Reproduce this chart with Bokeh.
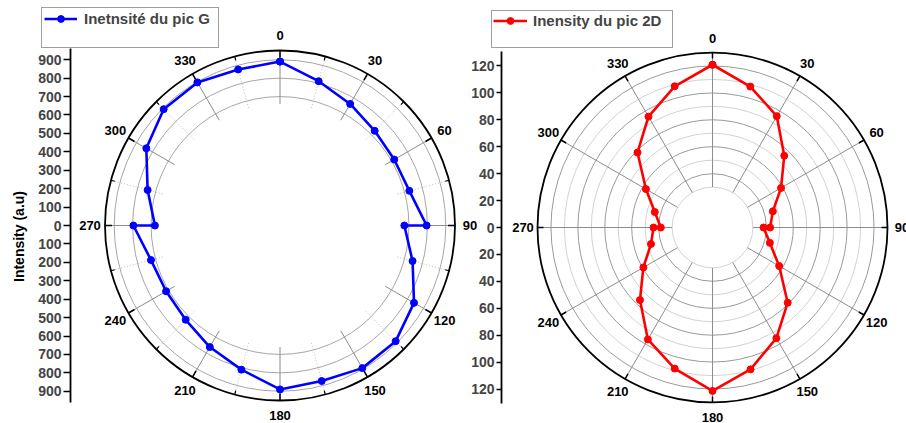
import numpy as np
from bokeh.plotting import figure
from bokeh.models import LinearAxis, FixedTicker, Legend, LegendItem, Range1d
from bokeh.core.properties import value
from bokeh.embed import file_html
from bokeh.resources import INLINE

# ---------------- data ----------------
angles = [0, 15, 30, 45, 60, 75, 90, 90, 105, 120, 135, 150, 165, 180,
          195, 210, 225, 240, 255, 270, 270, 285, 300, 315, 330, 345, 360]
g_intensity = [890, 811, 762, 727, 716, 727, 796, 675, 745, 840, 888, 894, 874, 890,
               810, 762, 724, 714, 725, 796, 679, 744, 838, 893, 897, 877, 890]
d2_intensity = [120.9, 108.4, 95.5, 75.4, 58.8, 46.4, 42.8, 37.9, 44.1, 57.2, 79.0, 94.9, 109.1, 121.4,
                108.5, 96.0, 76.2, 59.3, 47.3, 43.8, 38.4, 44.4, 57.1, 78.8, 95.1, 108.6, 120.9]

angle_ticks = [0, 30, 60, 90, 120, 150, 180, 210, 240, 270, 300, 330]
angle_tick_labels = ["0", "30", "60", "90", "120", "150", "180", "210", "240", "270", "300", "330"]
angle_minor_ticks = [15, 45, 75, 105, 135, 165, 195, 225, 255, 285, 315, 345]

g_radial_ticks = [-900, -800, -700, -600, -500, -400, -300, -200, -100, 0,
                  100, 200, 300, 400, 500, 600, 700, 800, 900]
g_radial_labels = ["900", "800", "700", "600", "500", "400", "300", "200", "100", "0",
                   "100", "200", "300", "400", "500", "600", "700", "800", "900"]
g_rings = [700, 800, 900]
g_rmax = 950
g_spoke_start = 660

d2_radial_ticks = [-120, -100, -80, -60, -40, -20, 0, 20, 40, 60, 80, 100, 120]
d2_radial_labels = ["120", "100", "80", "60", "40", "20", "0", "20", "40", "60", "80", "100", "120"]
d2_rings_major = [40, 60, 80, 100, 120]
d2_rings_minor = [30, 50, 70, 90, 110]
d2_rmax = 130
d2_spoke_start = 30

FONT = "Liberation Sans"
W, H = 906, 423

# page geometry of the two polar panels (pixels)
C1 = (279.5, 225)
C2 = (712, 227)
R_PX = 175
k1 = R_PX / g_rmax
k2 = R_PX / d2_rmax

p = figure(width=W, height=H,
           x_range=Range1d(-C1[0] / k1, (W - C1[0]) / k1),
           y_range=Range1d(-(H - C1[1]) / k1, C1[1] / k1),
           x_axis_type=None, y_axis_type=None,
           output_backend="svg", toolbar_location=None,
           min_border_left=0, min_border_right=0, min_border_top=0, min_border_bottom=0)
p.extra_x_ranges = {"r2": Range1d(-C2[0] / k2, (W - C2[0]) / k2)}
p.extra_y_ranges = {"r2": Range1d(-(H - C2[1]) / k2, C2[1] / k2)}
p.outline_line_color = None


def xy(r, a):
    t = np.radians(np.asarray(a, dtype=float))
    r = np.asarray(r, dtype=float)
    return r * np.sin(t), r * np.cos(t)


def panel(rn, k, cx, rmax, rings, spoke_start, minor_spokes, tick_major_px, tick_minor_px,
          ticks, tick_labels, bound_px, tick_out, axis_px, color, series, legend_label,
          legend_box, label_px):
    kw = dict(x_range_name=rn, y_range_name=rn)
    for radii, col in rings:
        p.circle(x=[0] * len(radii), y=[0] * len(radii), radius=radii,
                 fill_color=None, line_color=col, line_width=1, **kw)
    x0, y0 = xy([spoke_start] * len(angle_ticks), angle_ticks)
    x1, y1 = xy([rmax] * len(angle_ticks), angle_ticks)
    p.segment(x0, y0, x1, y1, line_color="#8c8c8c", line_width=1, **kw)
    if minor_spokes:
        x0, y0 = xy([spoke_start] * len(angle_minor_ticks), angle_minor_ticks)
        x1, y1 = xy([rmax] * len(angle_minor_ticks), angle_minor_ticks)
        p.segment(x0, y0, x1, y1, line_color="#bdbdbd", line_width=1, line_dash="1 2", **kw)
    p.circle(x=[0], y=[0], radius=[rmax], fill_color=None, line_color="black", line_width=1.8, **kw)
    x0, y0 = xy([rmax - tick_major_px / k] * len(angle_ticks), angle_ticks)
    x1, y1 = xy([rmax] * len(angle_ticks), angle_ticks)
    p.segment(x0, y0, x1, y1, line_color="black", line_width=1.5, **kw)
    if tick_minor_px:
        x0, y0 = xy([rmax - tick_minor_px / k] * len(angle_minor_ticks), angle_minor_ticks)
        x1, y1 = xy([rmax] * len(angle_minor_ticks), angle_minor_ticks)
        p.segment(x0, y0, x1, y1, line_color="black", line_width=1.2, **kw)

    dx, dy = xy(series, angles)
    lr = p.line(dx, dy, line_color=color, line_width=2.6, **kw)
    sr = p.scatter(dx, dy, size=7, fill_color=color, line_color=color, **kw)

    lx, ly = xy([rmax + label_px / k] * len(angle_ticks), angle_ticks)
    p.text(lx, ly, text=angle_tick_labels, text_font=value(FONT), text_font_style="bold",
           text_font_size="13px", text_align="center", text_baseline="middle",
           text_color="black", **kw)

    ax = LinearAxis(ticker=FixedTicker(ticks=ticks),
                    major_label_overrides=dict(zip(ticks, tick_labels)),
                    bounds=(-bound_px / k, bound_px / k),
                    fixed_location=(axis_px - cx) / k, **kw)
    ax.axis_line_width = 1.8
    ax.axis_line_color = "black"
    ax.major_tick_out = tick_out
    ax.major_tick_in = 0
    ax.major_tick_line_width = 1.5
    ax.minor_tick_out = 0
    ax.minor_tick_in = 0
    ax.major_label_standoff = 2
    ax.major_label_text_font = FONT
    ax.major_label_text_font_style = "bold"
    ax.major_label_text_font_size = "14px"
    p.add_layout(ax, "left")

    dummy = p.line(x=[], y=[], line_alpha=0, **kw)
    bl, bb, pad, sp, gw, so, lw = legend_box
    leg = Legend(items=[LegendItem(label=legend_label, renderers=[lr, sr]),
                        LegendItem(label=" ", renderers=[dummy])],
                 location=(bl, H - bb))
    leg.margin = 0
    leg.padding = pad
    leg.spacing = sp
    leg.label_height = 17
    leg.glyph_height = 17
    leg.glyph_width = gw
    leg.label_standoff = so
    leg.label_width = lw
    leg.label_text_font = FONT
    leg.label_text_font_style = "bold"
    leg.label_text_font_size = "15px"
    leg.border_line_color = "#404040"
    leg.border_line_width = 1
    leg.background_fill_color = "white"
    leg.background_fill_alpha = 1
    p.add_layout(leg)


# left panel: G peak
panel("default", k1, C1[0], g_rmax, [(g_rings, "#a6a6a6")], g_spoke_start, True, 7, 4,
      g_radial_ticks, g_radial_labels, 177, 7, 70, "#0000ff", g_intensity,
      "Inetnsité du pic G", (41, 48.3, 2, 1, 33, 7, 132), 15)
p.text([(18 - C1[0]) / k1], [(C1[1] - 236) / k1], text=["Intensity (a.u)"], angle=np.pi / 2,
       text_font=value(FONT), text_font_style="bold", text_font_size="14px",
       text_align="center", text_baseline="middle", text_color="black")

# right panel: 2D peak
panel("r2", k2, C2[0], d2_rmax, [(d2_rings_minor, "#d2d2d2"), (d2_rings_major, "#9a9a9a")],
      d2_spoke_start, False, 6, 0, d2_radial_ticks, d2_radial_labels, 176, 5, 501,
      "#ff0000", d2_intensity, "Inensity du pic 2D", (491, 48.3, 1, 0, 34, 6, 138), 14.5)

open("out.html", "w").write(file_html(p, INLINE))
